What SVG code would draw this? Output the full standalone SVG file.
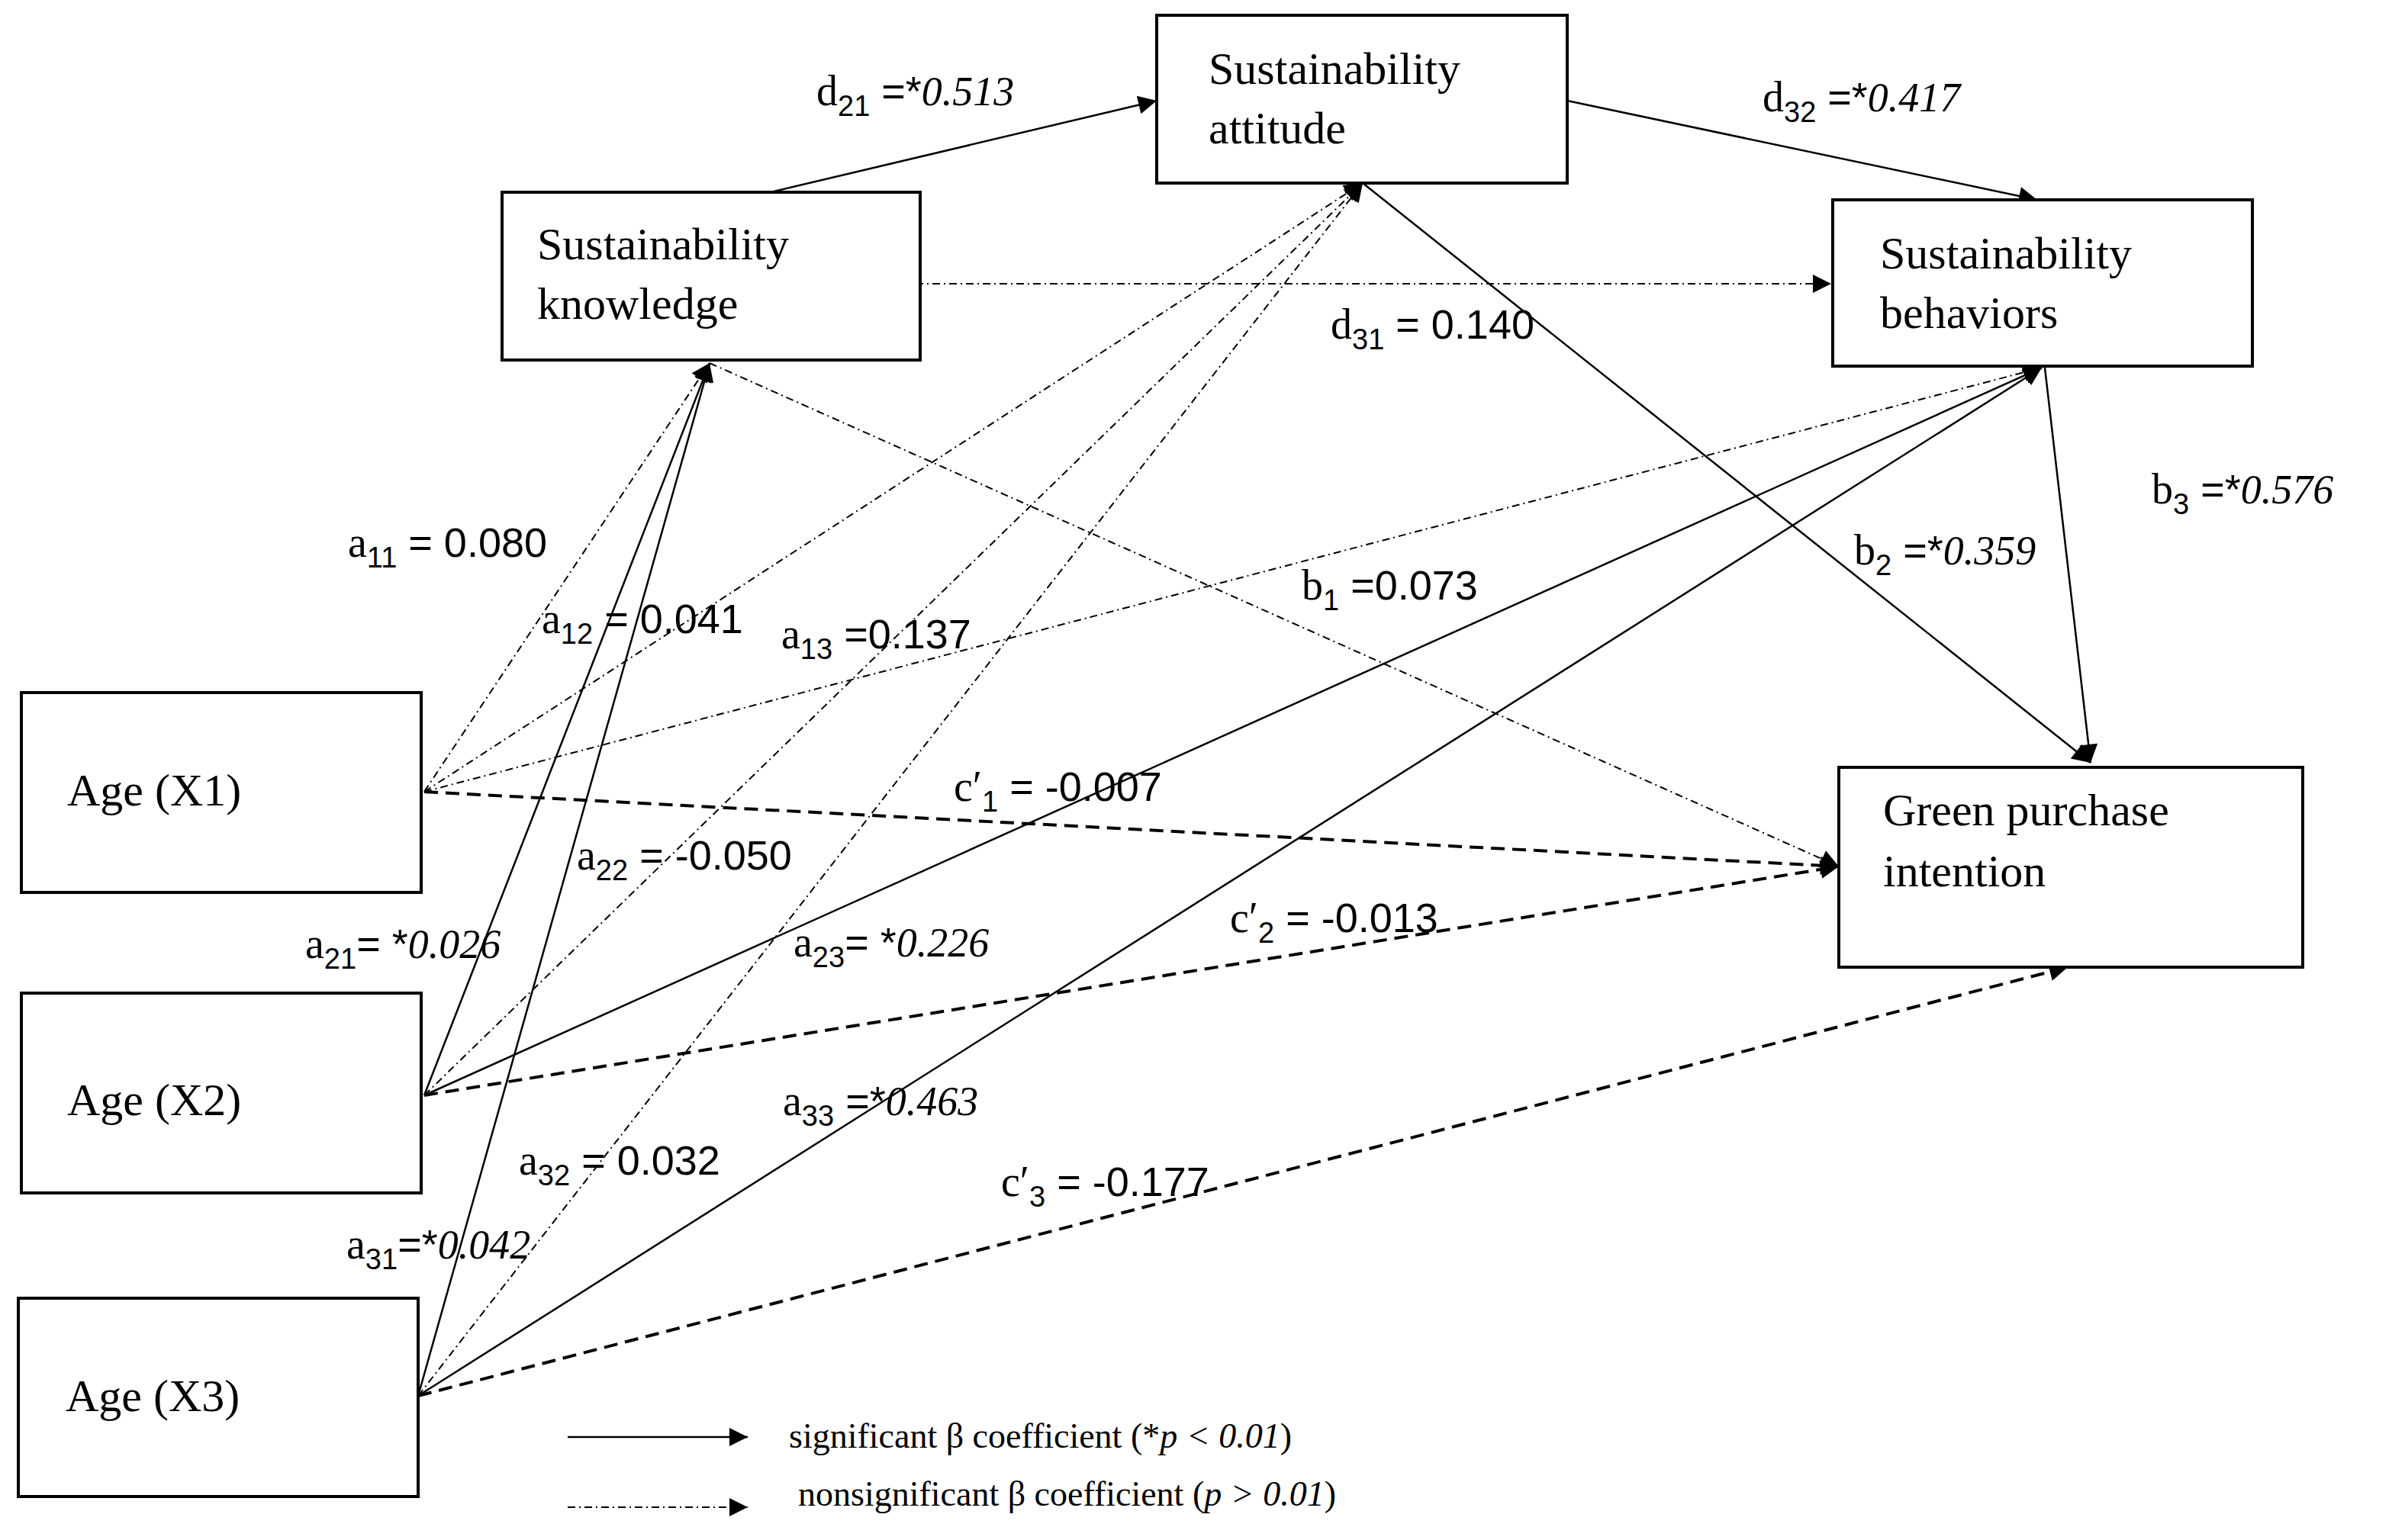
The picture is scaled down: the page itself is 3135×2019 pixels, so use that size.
<svg xmlns="http://www.w3.org/2000/svg" width="3135" height="2019" viewBox="0 0 3135 2019">
<style>
.box{fill:#fff;stroke:#000;stroke-width:4}
.t{font-family:"Liberation Serif",serif;font-size:60px;fill:#000}
.l{font-family:"Liberation Sans",sans-serif;font-size:54px;fill:#000}
.s{font-family:"Liberation Serif",serif;font-size:56px}
.sub{font-size:38px}
.i{font-family:"Liberation Serif",serif;font-style:italic}
.sol{stroke:#000;stroke-width:2.5;fill:none;marker-end:url(#ah)}
.dd{stroke:#000;stroke-width:2;fill:none;stroke-dasharray:10 5 2 5;marker-end:url(#ah)}
.da{stroke:#000;stroke-width:4;fill:none;stroke-dasharray:18 10;marker-end:url(#ah)}
.g{font-family:"Liberation Serif",serif;font-size:46px;fill:#000}
</style>
<defs><marker id="ah" viewBox="0 0 10 10" refX="10" refY="5" markerWidth="9" markerHeight="9" markerUnits="userSpaceOnUse" orient="auto"><path d="M0,0L10,5L0,10z" fill="#000"/></marker>
<marker id="ah2" viewBox="0 0 10 10" refX="10" refY="5" markerWidth="28" markerHeight="24" markerUnits="userSpaceOnUse" orient="auto"><path d="M0,0L10,5L0,10z" fill="#000"/></marker></defs>
<rect width="3135" height="2019" fill="#fff"/>
<g id="connectors">
<path class="sol" style="marker-end:url(#ah2)" d="M1010,252L1516,132"/>
<path class="sol" style="marker-end:url(#ah2)" d="M2054,132L2670,262"/>
<path class="sol" style="marker-end:url(#ah2)" d="M1786,240L2740,1000"/>
<path class="sol" style="marker-end:url(#ah2)" d="M2680,482L2740,1000"/>
<path class="sol" style="marker-end:url(#ah2)" d="M556,1436L930,476"/>
<path class="sol" style="marker-end:url(#ah2)" d="M548,1830L930,476"/>
<path class="sol" style="marker-end:url(#ah2)" d="M556,1436L2676,482"/>
<path class="sol" style="marker-end:url(#ah2)" d="M548,1830L2676,482"/>
<path class="dd" style="marker-end:url(#ah2)" d="M1200,372L2400,372"/>
<path class="dd" style="marker-end:url(#ah2)" d="M556,1038L930,476"/>
<path class="dd" style="marker-end:url(#ah2)" d="M556,1038L1786,240"/>
<path class="dd" style="marker-end:url(#ah2)" d="M556,1038L2676,482"/>
<path class="dd" style="marker-end:url(#ah2)" d="M556,1436L1786,240"/>
<path class="dd" style="marker-end:url(#ah2)" d="M548,1830L1786,240"/>
<path class="dd" style="marker-end:url(#ah2)" d="M930,476L2410,1136"/>
<path class="da" style="marker-end:url(#ah2)" d="M556,1038L2410,1136"/>
<path class="da" style="marker-end:url(#ah2)" d="M556,1436L2410,1136"/>
<path class="da" style="marker-end:url(#ah2)" d="M548,1830L2710,1268"/>
</g>
<g id="knowledge"><rect class="box" x="658" y="252" width="548" height="220"/><text class="t" x="704" y="340">Sustainability</text><text class="t" x="704" y="418">knowledge</text></g>
<g id="attitude"><rect class="box" x="1516" y="20" width="538" height="220"/><text class="t" x="1584" y="110">Sustainability</text><text class="t" x="1584" y="188">attitude</text></g>
<g id="behaviors"><rect class="box" x="2402" y="262" width="550" height="218"/><text class="t" x="2464" y="352">Sustainability</text><text class="t" x="2464" y="430">behaviors</text></g>
<g id="gpi"><rect class="box" x="2410" y="1006" width="608" height="262"/><text class="t" x="2468" y="1082">Green purchase</text><text class="t" x="2468" y="1162">intention</text></g>
<g id="x1"><rect class="box" x="28" y="908" width="524" height="262"/><text class="t" x="88" y="1056">Age (X1)</text></g>
<g id="x2"><rect class="box" x="28" y="1302" width="524" height="262"/><text class="t" x="88" y="1462">Age (X2)</text></g>
<g id="x3"><rect class="box" x="24" y="1702" width="524" height="260"/><text class="t" x="86" y="1850">Age (X3)</text></g>
<g id="labels" class="l">
<text x="1070" y="138"><tspan class="s">d</tspan><tspan class="sub" dy="14">21</tspan><tspan dy="-14">  =*</tspan><tspan class="i">0.513</tspan></text>
<text x="2310" y="146"><tspan class="s">d</tspan><tspan class="sub" dy="14">32</tspan><tspan dy="-14"> =*</tspan><tspan class="i">0.417</tspan></text>
<text x="1744" y="444"><tspan class="s">d</tspan><tspan class="sub" dy="14">31</tspan><tspan dy="-14"> = 0.140</tspan></text>
<text x="2820" y="660"><tspan class="s">b</tspan><tspan class="sub" dy="14">3</tspan><tspan dy="-14">  =*</tspan><tspan class="i">0.576</tspan></text>
<text x="2430" y="740"><tspan class="s">b</tspan><tspan class="sub" dy="14">2</tspan><tspan dy="-14"> =*</tspan><tspan class="i">0.359</tspan></text>
<text x="1706" y="786"><tspan class="s">b</tspan><tspan class="sub" dy="14">1</tspan><tspan dy="-14">   =0.073</tspan></text>
<text x="456" y="730"><tspan class="s">a</tspan><tspan class="sub" dy="14">11</tspan><tspan dy="-14"> = 0.080</tspan></text>
<text x="710" y="830"><tspan class="s">a</tspan><tspan class="sub" dy="14">12</tspan><tspan dy="-14"> = 0.041</tspan></text>
<text x="1024" y="850"><tspan class="s">a</tspan><tspan class="sub" dy="14">13</tspan><tspan dy="-14">  =0.137</tspan></text>
<text x="1250" y="1050"><tspan class="s">c′</tspan><tspan class="sub" dy="14">1</tspan><tspan dy="-14"> = -0.007</tspan></text>
<text x="756" y="1140"><tspan class="s">a</tspan><tspan class="sub" dy="14">22</tspan><tspan dy="-14"> = -0.050</tspan></text>
<text x="400" y="1256"><tspan class="s">a</tspan><tspan class="sub" dy="14">21</tspan><tspan dy="-14">= *</tspan><tspan class="i">0.026</tspan></text>
<text x="1040" y="1254"><tspan class="s">a</tspan><tspan class="sub" dy="14">23</tspan><tspan dy="-14">= *</tspan><tspan class="i">0.226</tspan></text>
<text x="1612" y="1222"><tspan class="s">c′</tspan><tspan class="sub" dy="14">2</tspan><tspan dy="-14"> = -0.013</tspan></text>
<text x="1026" y="1462"><tspan class="s">a</tspan><tspan class="sub" dy="14">33</tspan><tspan dy="-14"> =*</tspan><tspan class="i">0.463</tspan></text>
<text x="680" y="1540"><tspan class="s">a</tspan><tspan class="sub" dy="14">32</tspan><tspan dy="-14"> = 0.032</tspan></text>
<text x="1312" y="1568"><tspan class="s">c′</tspan><tspan class="sub" dy="14">3</tspan><tspan dy="-14"> = -0.177</tspan></text>
<text x="454" y="1650"><tspan class="s">a</tspan><tspan class="sub" dy="14">31</tspan><tspan dy="-14">=*</tspan><tspan class="i">0.042</tspan></text>
</g>
<g id="legend">
<path class="sol" style="marker-end:url(#ah2)" d="M744,1884L980,1884"/>
<path class="dd" style="marker-end:url(#ah2)" d="M744,1976L980,1976"/>
<text class="g" x="1034" y="1898">significant β coefficient (*<tspan font-style="italic">p &lt; 0.01</tspan>)</text>
<text class="g" x="1046" y="1974">nonsignificant β coefficient (<tspan font-style="italic">p &gt; 0.01</tspan>)</text>
</g>
</svg>
